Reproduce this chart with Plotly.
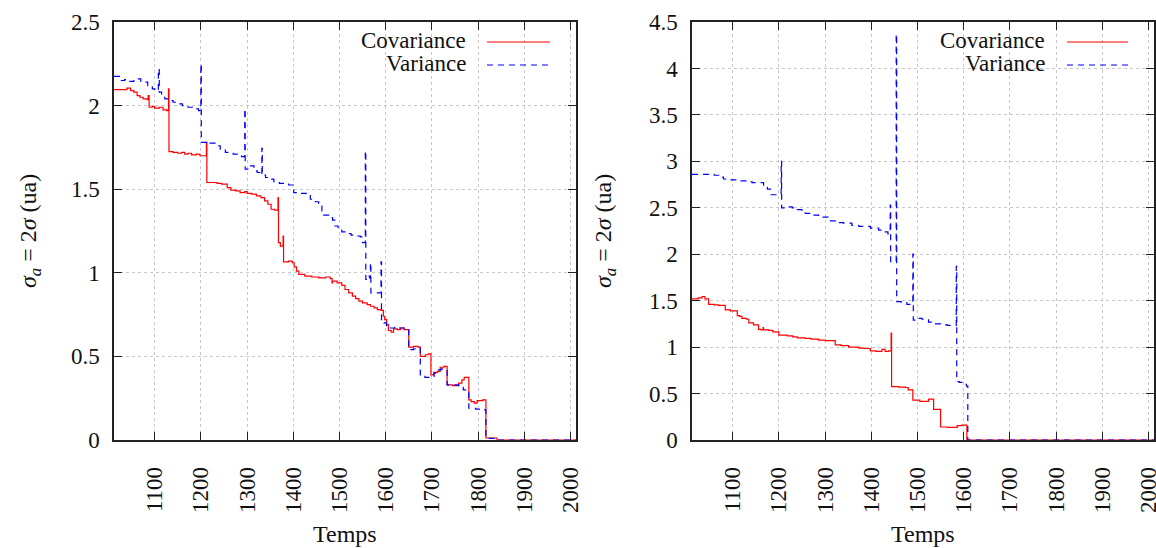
import plotly.graph_objects as go

# Step series: change times and the value held from each time on
left_cov_t = [1012, 1040, 1048, 1055, 1062, 1068, 1075, 1084, 1086, 1088, 1095, 1100, 1110, 1118, 1126,
              1130, 1131, 1140, 1150, 1158, 1165, 1172, 1180, 1190, 1198, 1212, 1213, 1235, 1245, 1257,
              1265, 1275, 1285, 1295, 1300, 1310, 1320, 1330, 1338, 1345, 1352, 1360, 1367, 1368, 1372,
              1378, 1379, 1390, 1398, 1402, 1407, 1412, 1425, 1440, 1455, 1470, 1480, 1484, 1485, 1495,
              1505, 1512, 1520, 1528, 1535, 1542, 1550, 1560, 1567, 1575, 1582, 1590, 1595, 1598, 1602,
              1606, 1612, 1617, 1625, 1632, 1640, 1650, 1660, 1670, 1675, 1686, 1692, 1698, 1704, 1712,
              1718, 1726, 1733, 1745, 1758, 1765, 1770, 1780, 1785, 1792, 1798, 1810, 1817, 1841, 2012]
left_cov_v = [2.095, 2.105, 2.09, 2.08, 2.06, 2.05, 2.04, 2.035, 2.06, 1.99, 1.995, 1.985, 1.99, 1.975, 1.97,
              2.10, 1.725, 1.72, 1.715, 1.72, 1.71, 1.715, 1.705, 1.71, 1.70, 1.78, 1.54, 1.535, 1.53, 1.51,
              1.495, 1.49, 1.48, 1.485, 1.475, 1.47, 1.46, 1.45, 1.43, 1.41, 1.38, 1.375, 1.45, 1.18, 1.16,
              1.22, 1.065, 1.07, 1.06, 1.035, 1.01, 0.99, 0.98, 0.975, 0.97, 0.975, 0.965, 0.94, 0.95, 0.94,
              0.925, 0.90, 0.88, 0.86, 0.845, 0.83, 0.82, 0.81, 0.80, 0.79, 0.78, 0.775, 0.74, 0.72, 0.69,
              0.655, 0.645, 0.665, 0.66, 0.67, 0.66, 0.555, 0.56, 0.555, 0.50, 0.51, 0.515, 0.39, 0.405, 0.41,
              0.435, 0.44, 0.33, 0.325, 0.34, 0.36, 0.375, 0.24, 0.23, 0.22, 0.235, 0.24, 0.012, 0.0, 0.0]

left_var_t = [1012, 1025, 1035, 1045, 1055, 1062, 1070, 1078, 1085, 1095, 1100, 1108, 1110, 1115, 1122,
              1128, 1140, 1150, 1160, 1172, 1185, 1195, 1200, 1201, 1212, 1220, 1232, 1242, 1253, 1262,
              1270, 1280, 1288, 1295, 1296, 1305, 1315, 1322, 1328, 1332, 1333, 1340, 1350, 1358, 1370,
              1380, 1390, 1401, 1415, 1428, 1437, 1448, 1455, 1462, 1466, 1478, 1485, 1490, 1497, 1505,
              1515, 1525, 1535, 1545, 1550, 1556, 1557, 1560, 1565, 1567, 1568, 1590, 1591, 1596, 1602,
              1610, 1620, 1630, 1640, 1650, 1660, 1670, 1675, 1685, 1695, 1705, 1712, 1720, 1733, 1745,
              1758, 1768, 1780, 1795, 1810, 1817, 1841, 2012]
left_var_v = [2.175, 2.15, 2.155, 2.145, 2.15, 2.16, 2.145, 2.14, 2.12, 2.10, 2.09, 2.22, 2.08, 2.05, 2.04,
              2.03, 2.02, 2.01, 2.00, 1.99, 1.98, 1.97, 2.25, 1.78, 1.77, 1.775, 1.76, 1.74, 1.72, 1.715,
              1.71, 1.70, 1.695, 1.98, 1.62, 1.64, 1.61, 1.60, 1.585, 1.745, 1.585, 1.57, 1.56, 1.545, 1.535,
              1.53, 1.525, 1.48, 1.475, 1.47, 1.44, 1.425, 1.415, 1.37, 1.345, 1.33, 1.315, 1.28, 1.26, 1.245,
              1.235, 1.225, 1.22, 1.215, 1.18, 1.73, 0.96, 0.98, 0.97, 1.06, 0.88, 1.065, 0.72, 0.70, 0.68,
              0.67, 0.675, 0.67, 0.665, 0.54, 0.545, 0.55, 0.39, 0.375, 0.38, 0.40, 0.42, 0.425, 0.33, 0.33,
              0.315, 0.30, 0.19, 0.185, 0.18, 0.01, 0.0, 0.0]

right_cov_t = [1012, 1025, 1034, 1040, 1048, 1060, 1070, 1084, 1095, 1110, 1115, 1120, 1130, 1135, 1145,
               1156, 1162, 1166, 1167, 1178, 1187, 1200, 1210, 1218, 1230, 1240, 1257, 1270, 1286, 1300,
               1322, 1335, 1351, 1373, 1385, 1398, 1410, 1423, 1430, 1438, 1443, 1444, 1460, 1474, 1480,
               1490, 1505, 1524, 1535, 1550, 1565, 1586, 1596, 1607, 2012]
right_cov_v = [1.52, 1.53, 1.545, 1.52, 1.46, 1.455, 1.45, 1.40, 1.39, 1.34, 1.33, 1.31, 1.30, 1.26, 1.24,
               1.19, 1.185, 1.21, 1.185, 1.18, 1.165, 1.13, 1.13, 1.12, 1.11, 1.10, 1.095, 1.085, 1.075, 1.07,
               1.025, 1.015, 1.00, 0.99, 0.985, 0.96, 0.955, 0.975, 0.955, 0.96, 1.15, 0.575, 0.57, 0.565, 0.54,
               0.43, 0.415, 0.44, 0.33, 0.14, 0.135, 0.155, 0.16, 0.0, 0.0]

right_var_t = [1012, 1048, 1060, 1070, 1080, 1091, 1110, 1130, 1142, 1150, 1167, 1175, 1182, 1195, 1205,
               1206, 1214, 1229, 1240, 1250, 1257, 1270, 1286, 1300, 1308, 1322, 1340, 1358, 1373, 1398,
               1416, 1423, 1436, 1441, 1442, 1454, 1455, 1465, 1477, 1490, 1491, 1500, 1510, 1524, 1535,
               1550, 1565, 1584, 1585, 1590, 1596, 1606, 1609, 2012]
right_var_v = [2.86, 2.86, 2.85, 2.83, 2.81, 2.80, 2.79, 2.78, 2.77, 2.77, 2.72, 2.70, 2.64, 2.64, 3.0,
               2.50, 2.51, 2.50, 2.48, 2.46, 2.44, 2.42, 2.40, 2.40, 2.36, 2.34, 2.335, 2.31, 2.30, 2.28,
               2.26, 2.24, 2.22, 2.53, 1.92, 4.37, 1.49, 1.48, 1.46, 2.0, 1.29, 1.31, 1.30, 1.27, 1.25,
               1.24, 1.235, 1.87, 0.63, 0.62, 0.60, 0.58, 0.0, 0.0]

x_ticks = [1100, 1200, 1300, 1400, 1500, 1600, 1700, 1800, 1900, 2000]
left_y_ticks = [0, 0.5, 1, 1.5, 2, 2.5]
left_y_labels = ["0", "0.5", "1", "1.5", "2", "2.5"]
right_y_ticks = [0, 0.5, 1, 1.5, 2, 2.5, 3, 3.5, 4, 4.5]
right_y_labels = ["0", "0.5", "1", "1.5", "2", "2.5", "3", "3.5", "4", "4.5"]
series_names = ["Covariance", "Variance"]

W, H = 1156, 548
FONT = "'Liberation Serif', 'DejaVu Serif', serif"
RED = "#ff0000"
BLUE = "#0000ff"
BLUE_DASH = "6px,5px"


def px_x(p):
    return p / W


def px_y(p):
    return 1 - p / H


fig = go.Figure()

fig.add_trace(go.Scatter(x=left_cov_t, y=left_cov_v, mode="lines", line_shape="hv",
                         line=dict(color=RED, width=1.2), xaxis="x", yaxis="y", name=series_names[0]))
fig.add_trace(go.Scatter(x=left_var_t, y=left_var_v, mode="lines", line_shape="hv",
                         line=dict(color=BLUE, width=1.2, dash=BLUE_DASH), xaxis="x", yaxis="y",
                         name=series_names[1]))
fig.add_trace(go.Scatter(x=right_cov_t, y=right_cov_v, mode="lines", line_shape="hv",
                         line=dict(color=RED, width=1.2), xaxis="x2", yaxis="y2", name=series_names[0]))
fig.add_trace(go.Scatter(x=right_var_t, y=right_var_v, mode="lines", line_shape="hv",
                         line=dict(color=BLUE, width=1.2, dash=BLUE_DASH), xaxis="x2", yaxis="y2",
                         name=series_names[1]))

common_axis = dict(
    showline=True, linecolor="#222222", linewidth=1.5, mirror="ticks",
    ticks="inside", ticklen=8, tickwidth=1, tickcolor="#222222",
    showgrid=True, gridcolor="#c8c8c8", griddash="dot", gridwidth=1,
    zeroline=False, automargin=False, ticklabeloverflow="allow",
    tickfont=dict(family=FONT, size=23, color="#111111"),
)

y_dom = [px_y(440), px_y(22)]
fig.update_layout(
    template="none",
    width=W, height=H,
    margin=dict(l=0, r=0, t=0, b=0, pad=0),
    paper_bgcolor="white", plot_bgcolor="white",
    showlegend=False,
    font=dict(family=FONT, size=22, color="#111111"),
    xaxis=dict(domain=[px_x(114), px_x(576)], range=[1012, 2012], tickvals=x_ticks,
               tickangle=-90, ticklabelstandoff=16, anchor="y", **common_axis),
    yaxis=dict(domain=y_dom, range=[0, 2.5], tickvals=left_y_ticks, ticktext=left_y_labels,
               ticklabelstandoff=8, anchor="x", **common_axis),
    xaxis2=dict(domain=[px_x(692), px_x(1154)], range=[1012, 2012], tickvals=x_ticks,
                tickangle=-90, ticklabelstandoff=16, anchor="y2", **common_axis),
    yaxis2=dict(domain=y_dom, range=[0, 4.5], tickvals=right_y_ticks, ticktext=right_y_labels,
                ticklabelstandoff=8, anchor="x2", **common_axis),
)

title_font = dict(family=FONT, size=24, color="#111111")
y_title = "<i>σ</i><sub><i>a</i></sub> = 2<i>σ</i> (ua)"
annotations = []
for cx, ycx in ((345, 30), (923, 605)):
    annotations.append(dict(x=px_x(cx), y=px_y(534), xref="paper", yref="paper", text="Temps",
                            showarrow=False, font=title_font, xanchor="center", yanchor="middle"))
    annotations.append(dict(x=px_x(ycx), y=px_y(231), xref="paper", yref="paper", text=y_title,
                            textangle=-90, showarrow=False, font=title_font,
                            xanchor="center", yanchor="middle"))

# Key: label on the left, line sample on the right
key_font = dict(family=FONT, size=23, color="#111111")
shapes = []
for text_right, s0, s1 in ((467, 487, 550), (1046, 1067, 1128)):
    for name, yc, color, dash in ((series_names[0], 40, RED, "solid"),
                                  (series_names[1], 63, BLUE, BLUE_DASH)):
        annotations.append(dict(x=px_x(text_right), y=px_y(yc), xref="paper", yref="paper",
                                text=name, showarrow=False, font=key_font, height=22,
                                borderpad=0, xanchor="right", yanchor="middle"))
        shapes.append(dict(type="line", xref="paper", yref="paper",
                           x0=px_x(s0), x1=px_x(s1), y0=px_y(yc + 2), y1=px_y(yc + 2),
                           line=dict(color=color, width=1.2, dash=dash)))

fig.update_layout(annotations=annotations, shapes=shapes)

fig.write_html("out.html")
